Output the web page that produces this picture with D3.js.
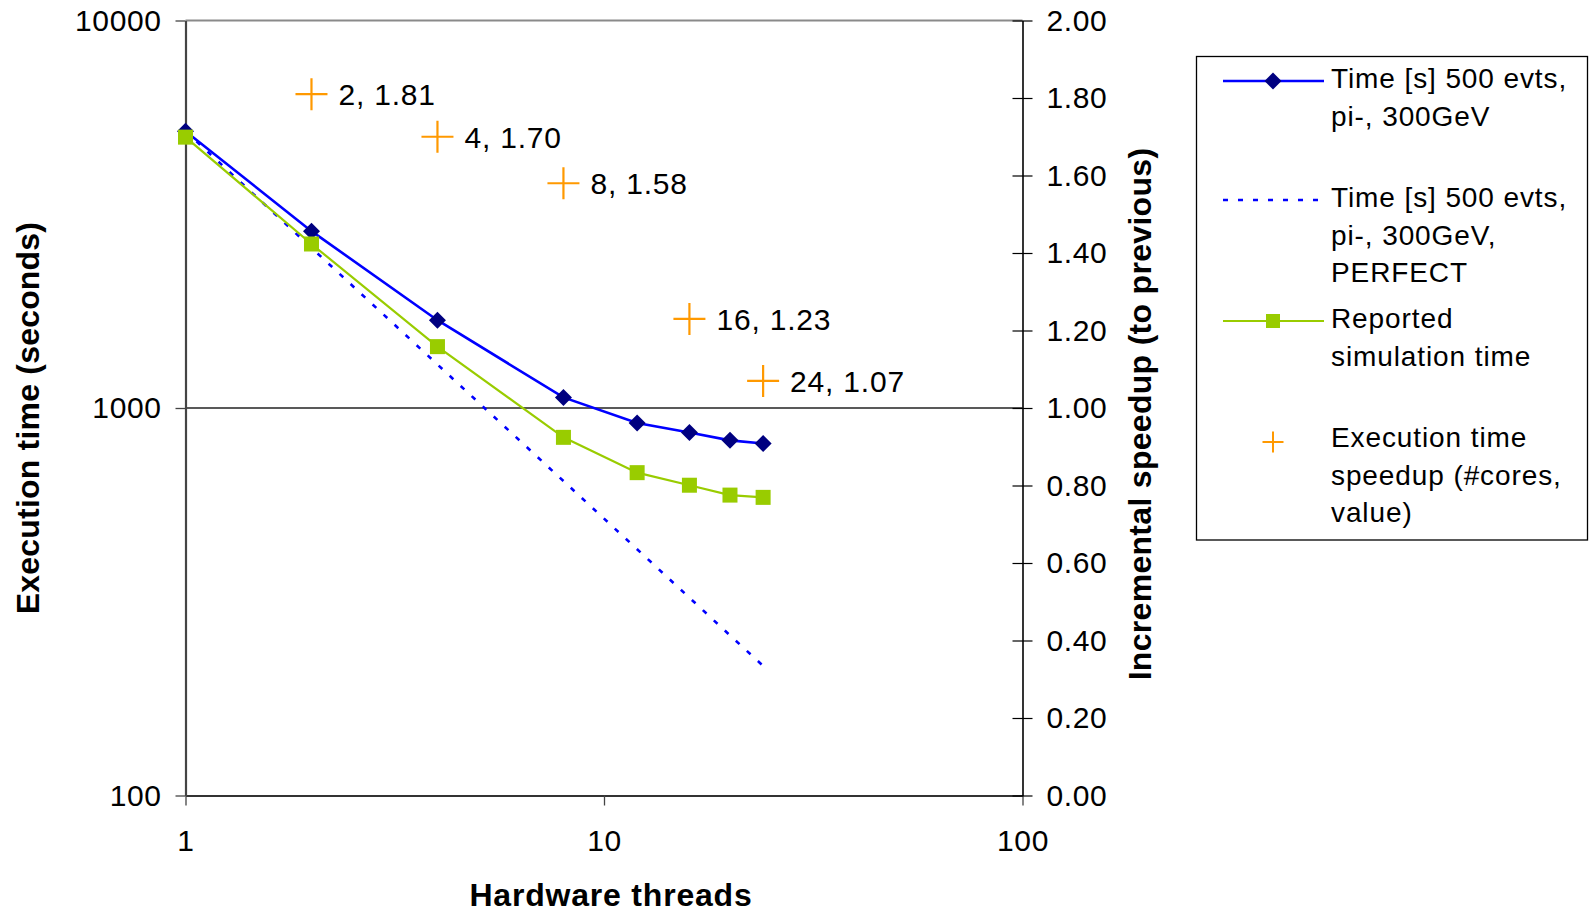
<!DOCTYPE html>
<html>
<head>
<meta charset="utf-8">
<script src="https://cdn.jsdelivr.net/npm/d3@7"></script>
<style>
  body { margin: 0; background: #fff; }
  svg text { font-family: "Liberation Sans", Arial, sans-serif; fill: #000; }
</style>
</head>
<body>
<div id="chart-area"></div>
<script>
// data
const threads = [1, 2, 4, 8, 12, 16, 20, 24];
const timeMeasured = [5180, 2860, 1685, 1065, 915, 865, 825, 810];
const timePerfect = [5180, 2590, 1295, 648, 432, 324, 259, 216];
const timeReported = [5000, 2650, 1440, 840, 681, 632, 596, 588];

const speedupCores = [2, 4, 8, 16, 24];
const speedupValues = [1.81, 1.70, 1.58, 1.23, 1.07];

const xTicks = [1, 10, 100];
const yLeftTicks = [100, 1000, 10000];
const yRightTicks = [0, 0.2, 0.4, 0.6, 0.8, 1.0, 1.2, 1.4, 1.6, 1.8, 2.0];

const legendLabels = [
    ["Time [s] 500 evts,", "pi-, 300GeV"],
    ["Time [s] 500 evts,", "pi-, 300GeV,", "PERFECT"],
    ["Reported", "simulation time"],
    ["Execution time", "speedup (#cores,", "value)"]
];

const W = 1589, H = 913;
const pLeft = 185.5, pRight = 1022.5, pTop = 20.5, pBottom = 795.5;

const svg = d3.select("#chart-area")
    .append("svg")
    .attr("width", W)
    .attr("height", H);

const x = d3.scaleLog().domain([1, 100]).range([pLeft, pRight]);
const yL = d3.scaleLog().domain([100, 10000]).range([pBottom, pTop]);
const yR = d3.scaleLinear().domain([0, 2]).range([pBottom, pTop]);

// gridline at 1000 and top border at 10000
svg.append("line")
    .attr("x1", pLeft).attr("x2", pRight)
    .attr("y1", yL(1000)).attr("y2", yL(1000))
    .attr("stroke", "#222").attr("stroke-width", 1.4);
svg.append("line")
    .attr("x1", pLeft).attr("x2", pRight)
    .attr("y1", yL(10000)).attr("y2", yL(10000))
    .attr("stroke", "#8a8a8a").attr("stroke-width", 2);

// x axis
const xAxis = svg.append("g")
    .attr("transform", "translate(0," + pBottom + ")")
    .call(d3.axisBottom(x).tickValues(xTicks).tickFormat(d3.format("d"))
        .tickSize(10).tickSizeOuter(0).tickPadding(24));
xAxis.select(".domain").attr("stroke", "#333").attr("stroke-width", 2);
xAxis.selectAll(".tick line").attr("stroke", "#444").attr("stroke-width", 1.3);

// left axis
const yAxisL = svg.append("g")
    .attr("transform", "translate(" + pLeft + ",0)")
    .call(d3.axisLeft(yL).tickValues(yLeftTicks).tickFormat(d3.format("d"))
        .tickSize(10).tickSizeOuter(0).tickPadding(14));
yAxisL.select(".domain").attr("stroke", "#444").attr("stroke-width", 2.2);
yAxisL.selectAll(".tick line").attr("stroke", "#444").attr("stroke-width", 1.3);

// right axis, ticks cross the line
const yAxisR = svg.append("g")
    .attr("transform", "translate(" + pRight + ",0)")
    .call(d3.axisRight(yR).tickValues(yRightTicks).tickFormat(d3.format(".2f"))
        .tickSize(10).tickSizeOuter(0).tickPadding(14));
yAxisR.select(".domain").attr("stroke", "#000").attr("stroke-width", 1.6);
yAxisR.selectAll(".tick line").attr("x1", -10).attr("stroke", "#000").attr("stroke-width", 1.2);

svg.selectAll(".tick text")
    .attr("font-size", "30px")
    .attr("letter-spacing", "0.6px")
    .attr("font-family", "Liberation Sans, Arial, sans-serif")
    .attr("fill", "#000");

// series
const line = d3.line()
    .x(function(d){ return x(d[0]); })
    .y(function(d){ return yL(d[1]); });

const diamond = function(h){ return "M0," + (-h) + "L" + h + ",0L0," + h + "L" + (-h) + ",0Z"; };

svg.append("path")
    .datum(d3.zip(threads, timeMeasured))
    .attr("d", line)
    .attr("fill", "none")
    .attr("stroke", "#0000ff")
    .attr("stroke-width", 2.6);

svg.selectAll(".dm")
    .data(d3.zip(threads, timeMeasured))
    .enter().append("path")
    .attr("class", "dm")
    .attr("transform", function(d){ return "translate(" + x(d[0]) + "," + yL(d[1]) + ")"; })
    .attr("d", diamond(8.5))
    .attr("fill", "#000080");

svg.append("path")
    .datum(d3.zip(threads, timePerfect))
    .attr("d", line)
    .attr("fill", "none")
    .attr("stroke", "#0000ff")
    .attr("stroke-width", 2.6)
    .attr("stroke-dasharray", "5,10");

svg.append("path")
    .datum(d3.zip(threads, timeReported))
    .attr("d", line)
    .attr("fill", "none")
    .attr("stroke", "#99cc00")
    .attr("stroke-width", 2.2);

svg.selectAll(".sq")
    .data(d3.zip(threads, timeReported))
    .enter().append("rect")
    .attr("class", "sq")
    .attr("x", function(d){ return x(d[0]) - 7.5; })
    .attr("y", function(d){ return yL(d[1]) - 7.5; })
    .attr("width", 15).attr("height", 15)
    .attr("fill", "#99cc00");

// speedup crosses with labels
const plus = function(h){ return "M" + (-h) + ",0H" + h + "M0," + (-h) + "V" + h; };
const sp = svg.selectAll(".sp")
    .data(d3.zip(speedupCores, speedupValues))
    .enter().append("g")
    .attr("class", "sp")
    .attr("transform", function(d){ return "translate(" + x(d[0]) + "," + yR(d[1]) + ")"; });
sp.append("path")
    .attr("d", plus(16))
    .attr("stroke", "#ff9900")
    .attr("stroke-width", 2.2)
    .attr("fill", "none");
sp.append("text")
    .attr("x", 27)
    .attr("dy", "0.36em")
    .attr("font-size", "30px")
    .attr("letter-spacing", "0.8px")
    .text(function(d){ return d[0] + ", " + d[1].toFixed(2); });

// axis titles
svg.append("text")
    .attr("transform", "translate(39,418) rotate(-90)")
    .attr("text-anchor", "middle")
    .attr("font-size", "32px")
    .attr("font-weight", "bold")
    .attr("letter-spacing", "0.2px")
    .text("Execution time (seconds)");

svg.append("text")
    .attr("transform", "translate(1151,414) rotate(-90)")
    .attr("text-anchor", "middle")
    .attr("font-size", "32px")
    .attr("font-weight", "bold")
    .attr("letter-spacing", "0.3px")
    .text("Incremental speedup (to previous)");

svg.append("text")
    .attr("x", 611)
    .attr("y", 906)
    .attr("text-anchor", "middle")
    .attr("font-size", "32px")
    .attr("font-weight", "bold")
    .attr("letter-spacing", "0.8px")
    .text("Hardware threads");

// legend
const lg = svg.append("g");
lg.append("rect")
    .attr("x", 1196.5).attr("y", 56.5)
    .attr("width", 391).attr("height", 483.5)
    .attr("fill", "none")
    .attr("stroke", "#000")
    .attr("stroke-width", 1.3);

const firstBase = [88, 207, 328, 447];
const lx1 = 1223, lx2 = 1324, lmid = 1273, ltext = 1331;

legendLabels.forEach(function(lines, i){
    const my = firstBase[i] - 7;
    if (i === 0 || i === 1 || i === 2) {
        lg.append("line")
            .attr("x1", lx1).attr("x2", lx2).attr("y1", my).attr("y2", my)
            .attr("stroke", i === 2 ? "#99cc00" : "#0000ff")
            .attr("stroke-width", i === 2 ? 2.2 : 2.6)
            .attr("stroke-dasharray", i === 1 ? "5,10" : null);
    }
    if (i === 0) {
        lg.append("path").attr("transform", "translate(" + lmid + "," + my + ")")
            .attr("d", diamond(8.5)).attr("fill", "#000080");
    } else if (i === 2) {
        lg.append("rect").attr("x", lmid - 7).attr("y", my - 7)
            .attr("width", 14).attr("height", 14).attr("fill", "#99cc00");
    } else if (i === 3) {
        lg.append("path").attr("transform", "translate(" + lmid + "," + (my + 2) + ")")
            .attr("d", plus(10.5)).attr("stroke", "#ff9900")
            .attr("stroke-width", 2).attr("fill", "none");
    }
    lines.forEach(function(t, j){
        lg.append("text")
            .attr("x", ltext)
            .attr("y", firstBase[i] + j * 37.5)
            .attr("font-size", "28px")
            .attr("letter-spacing", "0.9px")
            .text(t);
    });
});
</script>
</body>
</html>
